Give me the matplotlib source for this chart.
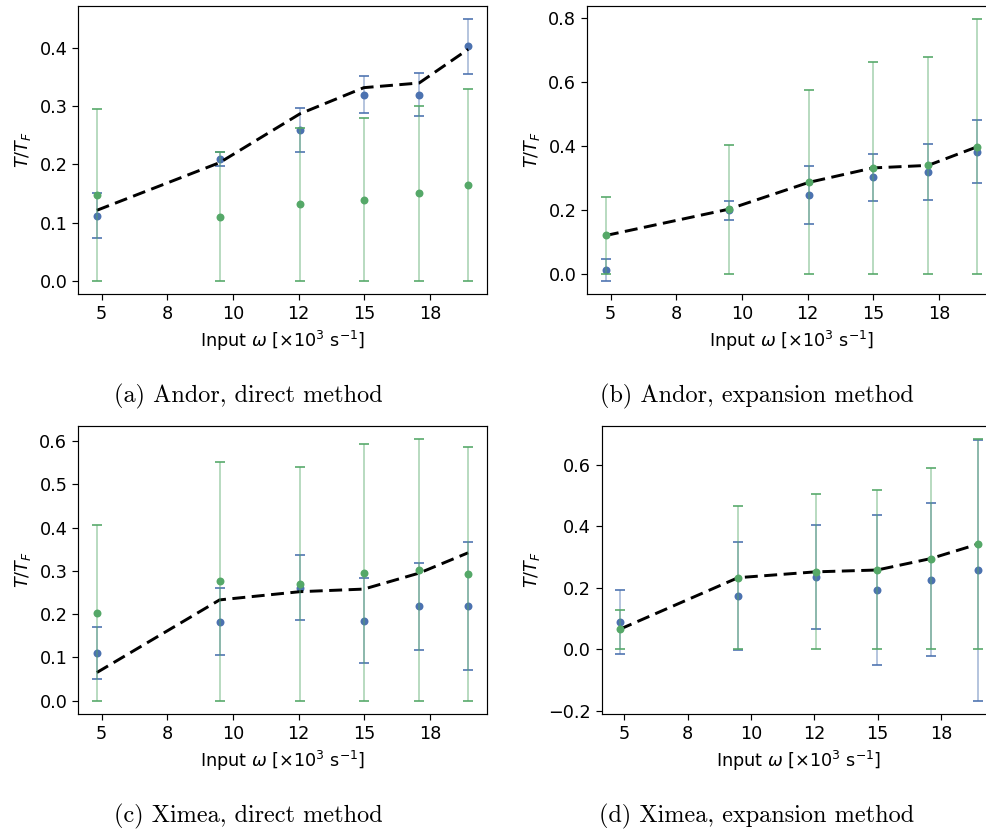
import numpy as np
import matplotlib.pyplot as plt

# trap frequencies (x positions) and the tick labels used on every panel
omega = [4.81, 9.67, 12.85, 15.38, 17.57, 19.51]
tick_pos = [5, 7.6, 10.2, 12.8, 15.4, 18]
tick_labels = ['5', '8', '10', '12', '15', '18']

# Andor camera
andor_direct_fit = [0.112, 0.209, 0.259, 0.320, 0.320, 0.403]
andor_direct_fit_err = [0.038, 0.012, 0.038, 0.032, 0.037, 0.047]
andor_direct_calc = [0.147, 0.110, 0.131, 0.139, 0.150, 0.164]
andor_direct_calc_err = [0.148, 0.111, 0.131, 0.140, 0.150, 0.166]

andor_exp_fit = [0.013, 0.200, 0.247, 0.303, 0.319, 0.383]
andor_exp_fit_err = [0.033, 0.030, 0.091, 0.073, 0.088, 0.098]
andor_exp_calc = [0.121, 0.203, 0.287, 0.332, 0.340, 0.398]
andor_exp_calc_err = [0.121, 0.202, 0.287, 0.332, 0.339, 0.399]

# Ximea camera
ximea_direct_fit = [0.111, 0.183, 0.261, 0.185, 0.218, 0.219]
ximea_direct_fit_err = [0.060, 0.077, 0.075, 0.099, 0.100, 0.148]
ximea_direct_calc = [0.202, 0.276, 0.270, 0.295, 0.301, 0.292]
ximea_direct_calc_err = [0.204, 0.276, 0.270, 0.299, 0.304, 0.295]

ximea_exp_fit = [0.090, 0.173, 0.235, 0.193, 0.226, 0.257]
ximea_exp_fit_err = [0.104, 0.175, 0.169, 0.245, 0.249, 0.424]
ximea_exp_calc = [0.065, 0.233, 0.252, 0.258, 0.295, 0.342]
ximea_exp_calc_err = [0.064, 0.233, 0.252, 0.259, 0.294, 0.342]

captions = ['(a) Andor, direct method', '(b) Andor, expansion method',
            '(c) Ximea, direct method', '(d) Ximea, expansion method']

BLUE = '#4C72B0'
GREEN = '#55A868'

plt.rcParams['font.size'] = 12
plt.rcParams['xtick.major.size'] = 4
plt.rcParams['ytick.major.size'] = 4

DPI = 106
fig = plt.figure(figsize=(986 / DPI, 832 / DPI), dpi=DPI)

W, H = 986, 832


def px_axes(left, top, right, bottom):
    return fig.add_axes([left / W, 1 - bottom / H, (right - left) / W, (bottom - top) / H])


def err_series(ax, vals, errs, color, clip=False, z=2):
    vals = np.array(vals)
    errs = np.array(errs)
    lower = np.minimum(errs, vals) if clip else errs
    ax.errorbar(omega, vals, yerr=[lower, errs], fmt='none', ecolor=color,
                elinewidth=1.1, alpha=0.5, zorder=z)
    # caps at both ends of each bar
    ax.plot(omega, vals + errs, '_', color=color, ms=7, mew=1.3, alpha=0.85, zorder=z)
    ax.plot(omega, vals - lower, '_', color=color, ms=7, mew=1.3, alpha=0.85, zorder=z)
    ax.plot(omega, vals, 'o', color=color, ms=5.4, mew=0, zorder=z + 0.1)


def panel(ax, fit, fit_err, calc, calc_err, ref):
    err_series(ax, fit, fit_err, BLUE, z=2)
    ax.plot(omega, ref, '--', color='black', lw=2, dashes=(4.4, 2.2), zorder=3)
    err_series(ax, calc, calc_err, GREEN, clip=True, z=4)
    ax.set_xticks(tick_pos)
    ax.set_xticklabels(tick_labels)
    ax.set_xlabel(r'Input $\omega$ [$\times 10^3$ s$^{-1}$]')
    ax.set_ylabel(r'$T/T_F$')


ax_a = px_axes(78.3, 6, 486.7, 293.7)
panel(ax_a, andor_direct_fit, andor_direct_fit_err, andor_direct_calc, andor_direct_calc_err, andor_exp_calc)
ax_a.set_yticks([0.0, 0.1, 0.2, 0.3, 0.4])

ax_b = px_axes(587.3, 6, 995.7, 293.7)
panel(ax_b, andor_exp_fit, andor_exp_fit_err, andor_exp_calc, andor_exp_calc_err, andor_exp_calc)
ax_b.set_yticks([0.0, 0.2, 0.4, 0.6, 0.8])

ax_c = px_axes(78.3, 426, 486.7, 713.7)
panel(ax_c, ximea_direct_fit, ximea_direct_fit_err, ximea_direct_calc, ximea_direct_calc_err, ximea_exp_calc)
ax_c.set_yticks([0.0, 0.1, 0.2, 0.3, 0.4, 0.5, 0.6])

ax_d = px_axes(601.7, 426, 995.7, 713.7)
panel(ax_d, ximea_exp_fit, ximea_exp_fit_err, ximea_exp_calc, ximea_exp_calc_err, ximea_exp_calc)
ax_d.set_yticks([-0.2, 0.0, 0.2, 0.4, 0.6])

# subfigure captions
for txt, (x, y) in zip(captions, [(248, 396), (757, 396), (248, 816), (757, 816)]):
    fig.text(x / W, 1 - y / H, txt, ha='center', va='center', family='cmr10', fontsize=16.5)

fig.savefig('out.png', dpi=DPI)
